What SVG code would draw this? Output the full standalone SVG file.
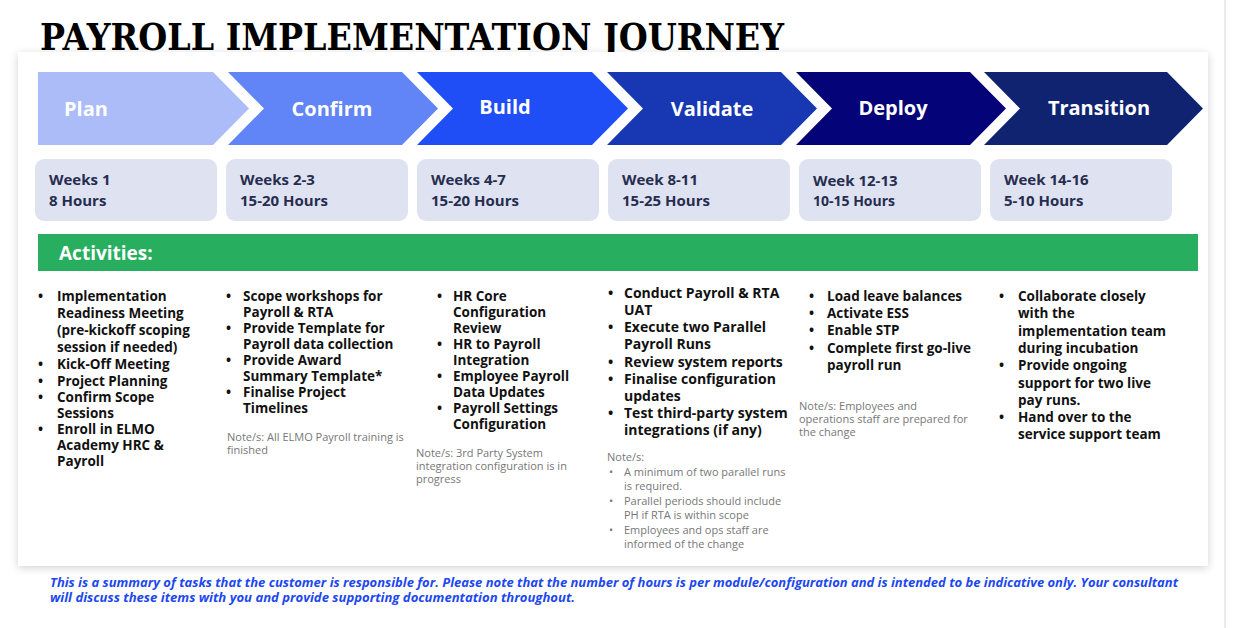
<svg xmlns="http://www.w3.org/2000/svg" width="1247" height="628" viewBox="0 0 1247 628">
  <defs>
    <filter id="shadow" x="-5%" y="-5%" width="110%" height="115%">
      <feGaussianBlur in="SourceAlpha" stdDeviation="4"/>
      <feOffset dx="0" dy="2" result="b"/>
      <feComponentTransfer><feFuncA type="linear" slope="0.18"/></feComponentTransfer>
      <feMerge><feMergeNode/><feMergeNode in="SourceGraphic"/></feMerge>
    </filter>
    <filter id="edge" x="-200%" y="0" width="500%" height="100%">
      <feGaussianBlur stdDeviation="1.5"/>
    </filter>
    <style>
      .title{font-family:"DejaVu Serif","Liberation Serif",serif;font-weight:bold;font-size:37px;fill:#000}
      .phase{font-family:"Open Sans","Noto Sans",sans-serif;font-weight:bold;font-size:20px;fill:#fff}
      .wbox{fill:#dfe2f1}
      .week{font-family:"Open Sans","Noto Sans",sans-serif;font-weight:bold;font-size:15px;fill:#262d4f}
      .weeks{font-family:"Open Sans","Noto Sans",sans-serif;font-weight:bold;font-size:14px;fill:#262d4f}
      .act{font-family:"Open Sans","Noto Sans",sans-serif;font-weight:bold;font-size:13.5px;fill:#111}
      .act2{font-family:"Open Sans","Noto Sans",sans-serif;font-weight:bold;font-size:14px;fill:#111}
      .note{font-family:"Open Sans","Noto Sans",sans-serif;font-size:11px;fill:#777}
      .foot{font-family:"Open Sans","Noto Sans",sans-serif;font-weight:bold;font-style:italic;font-size:12px;fill:#1d48f0}
      .hdr{font-family:"Open Sans","Noto Sans",sans-serif;font-weight:bold;font-size:19px;fill:#fff}
    </style>
  </defs>

  <rect x="0" y="0" width="1247" height="628" fill="#fff"/>
  <line x1="1225" y1="0" x2="1225" y2="628" stroke="#bbb" stroke-width="2" filter="url(#edge)"/>
  <line x1="1225" y1="0" x2="1225" y2="628" stroke="#d6d6d6" stroke-width="1"/>

  <text class="title" x="40" y="50" textLength="744" lengthAdjust="spacingAndGlyphs">PAYROLL IMPLEMENTATION JOURNEY</text>

  <rect id="card" x="18" y="52" width="1190" height="514" fill="#fff" filter="url(#shadow)"/>

  <g id="connectors"></g>

  <g id="phase-plan">
    <polygon points="38,72 213,72 249,108.5 213,145 38,145" fill="#abbcf9"/>
    <text class="phase" x="64" y="116">Plan</text>
    <rect class="wbox" x="35" y="159" width="182" height="62" rx="9"/>
    <text class="week" x="49" y="185">Weeks 1</text>
    <text class="week" x="49" y="206">8 Hours</text>
  </g>
  <g id="phase-confirm">
    <polygon points="228,72 402,72 438,108.5 402,145 228,145 264,108.5" fill="#6184f6"/>
    <text class="phase" x="332" y="116" text-anchor="middle">Confirm</text>
    <rect class="wbox" x="226" y="159" width="182" height="62" rx="9"/>
    <text class="week" x="240" y="185">Weeks 2-3</text>
    <text class="week" x="240" y="206">15-20 Hours</text>
  </g>
  <g id="phase-build">
    <polygon points="417,72 592,72 628,108.5 592,145 417,145 453,108.5" fill="#1f4ef6"/>
    <text class="phase" x="505" y="114" text-anchor="middle">Build</text>
    <rect class="wbox" x="417" y="159" width="182" height="62" rx="9"/>
    <text class="week" x="431" y="185">Weeks 4-7</text>
    <text class="week" x="431" y="206">15-20 Hours</text>
  </g>
  <g id="phase-validate">
    <polygon points="607,72 781,72 817,108.5 781,145 607,145 643,108.5" fill="#1737b3"/>
    <text class="phase" x="712" y="116" text-anchor="middle">Validate</text>
    <rect class="wbox" x="608" y="159" width="182" height="62" rx="9"/>
    <text class="week" x="622" y="185">Week 8-11</text>
    <text class="week" x="622" y="206">15-25 Hours</text>
  </g>
  <g id="phase-deploy">
    <polygon points="796,72 970,72 1006,108.5 970,145 796,145 832,108.5" fill="#040478"/>
    <text class="phase" x="893" y="115" text-anchor="middle">Deploy</text>
    <rect class="wbox" x="799" y="159" width="182" height="62" rx="9"/>
    <text class="week" x="813" y="186">Week 12-13</text>
    <text class="weeks" x="813" y="206">10-15 Hours</text>
  </g>
  <g id="phase-transition">
    <polygon points="984,72 1167,72 1203,108.5 1167,145 984,145 1020,108.5" fill="#0f2370"/>
    <text class="phase" x="1099" y="115" text-anchor="middle">Transition</text>
    <rect class="wbox" x="990" y="159" width="182" height="62" rx="9"/>
    <text class="week" x="1004" y="185">Week 14-16</text>
    <text class="week" x="1004" y="206">5-10 Hours</text>
  </g>

  <g id="activities-header">
    <rect x="38" y="234" width="1160" height="37" fill="#27ae5e"/>
    <text class="hdr" x="59" y="260">Activities:</text>
  </g>

  <g id="col-plan" class="act">
    <text x="38" y="301">•</text><text x="57" y="301">Implementation</text>
    <text x="57" y="318">Readiness Meeting</text>
    <text x="57" y="335">(pre-kickoff scoping</text>
    <text x="57" y="352">session if needed)</text>
    <text x="38" y="369">•</text><text x="57" y="369">Kick-Off Meeting</text>
    <text x="38" y="386">•</text><text x="57" y="386">Project Planning</text>
    <text x="38" y="402">•</text><text x="57" y="402">Confirm Scope</text>
    <text x="57" y="418">Sessions</text>
    <text x="38" y="434">•</text><text x="57" y="434">Enroll in ELMO</text>
    <text x="57" y="450">Academy  HRC &amp;</text>
    <text x="57" y="466">Payroll</text>
  </g>

  <g id="col-confirm">
    <g class="act">
      <text x="226" y="301">•</text><text x="243" y="301">Scope workshops for</text>
      <text x="243" y="317">Payroll &amp; RTA</text>
      <text x="226" y="333">•</text><text x="243" y="333">Provide Template for</text>
      <text x="243" y="349">Payroll data collection</text>
      <text x="226" y="365">•</text><text x="243" y="365">Provide Award</text>
      <text x="243" y="381">Summary Template*</text>
      <text x="226" y="397">•</text><text x="243" y="397">Finalise Project</text>
      <text x="243" y="413">Timelines</text>
    </g>
    <text class="note" x="227" y="441">Note/s: All ELMO Payroll training is</text>
    <text class="note" x="227" y="454">finished</text>
  </g>

  <g id="col-build">
    <g class="act">
      <text x="437" y="301">•</text><text x="453" y="301">HR Core</text>
      <text x="453" y="317">Configuration</text>
      <text x="453" y="333">Review</text>
      <text x="437" y="349">•</text><text x="453" y="349">HR to Payroll</text>
      <text x="453" y="365">Integration</text>
      <text x="437" y="381">•</text><text x="453" y="381">Employee Payroll</text>
      <text x="453" y="397">Data Updates</text>
      <text x="437" y="413">•</text><text x="453" y="413">Payroll Settings</text>
      <text x="453" y="429">Configuration</text>
    </g>
    <text class="note" x="416" y="457">Note/s: 3rd Party System</text>
    <text class="note" x="416" y="470">integration configuration is in</text>
    <text class="note" x="416" y="483">progress</text>
  </g>

  <g id="col-validate">
    <g class="act2">
      <text x="608" y="298">•</text><text x="624" y="298">Conduct Payroll &amp; RTA</text>
      <text x="624" y="315">UAT</text>
      <text x="608" y="332">•</text><text x="624" y="332">Execute two Parallel</text>
      <text x="624" y="349">Payroll Runs</text>
      <text x="608" y="367">•</text><text x="624" y="367">Review system reports</text>
      <text x="608" y="384">•</text><text x="624" y="384">Finalise configuration</text>
      <text x="624" y="401">updates</text>
      <text x="608" y="418">•</text><text x="624" y="418">Test third-party system</text>
      <text x="624" y="435">integrations (if any)</text>
    </g>
    <g class="note">
      <text x="607" y="461">Note/s:</text>
      <text x="609" y="476">•</text><text x="624" y="476">A minimum of two parallel runs</text>
      <text x="624" y="490">is required.</text>
      <text x="609" y="505">•</text><text x="624" y="505">Parallel periods should include</text>
      <text x="624" y="519">PH if RTA is within scope</text>
      <text x="609" y="534">•</text><text x="624" y="534">Employees and ops staff are</text>
      <text x="624" y="548">informed of the change</text>
    </g>
  </g>

  <g id="col-deploy">
    <g class="act">
      <text x="809" y="301">•</text><text x="827" y="301">Load leave balances</text>
      <text x="809" y="318">•</text><text x="827" y="318">Activate ESS</text>
      <text x="809" y="335">•</text><text x="827" y="335">Enable STP</text>
      <text x="809" y="353">•</text><text x="827" y="353">Complete first go-live</text>
      <text x="827" y="370">payroll run</text>
    </g>
    <text class="note" x="799" y="410">Note/s: Employees and</text>
    <text class="note" x="799" y="423">operations staff are prepared for</text>
    <text class="note" x="799" y="436">the change</text>
  </g>

  <g id="col-transition" class="act">
    <text x="999" y="301">•</text><text x="1018" y="301">Collaborate closely</text>
    <text x="1018" y="318">with the</text>
    <text x="1018" y="336">implementation team</text>
    <text x="1018" y="353">during incubation</text>
    <text x="999" y="370">•</text><text x="1018" y="370">Provide ongoing</text>
    <text x="1018" y="388">support for two live</text>
    <text x="1018" y="405">pay runs.</text>
    <text x="999" y="422">•</text><text x="1018" y="422">Hand over to the</text>
    <text x="1018" y="439">service support team</text>
  </g>

  <g id="footnote" class="foot">
    <text x="50" y="587" textLength="1128" lengthAdjust="spacingAndGlyphs">This is a summary of tasks that the customer is responsible for. Please note that the number of hours is per module/configuration and is intended to be indicative only. Your consultant</text>
    <text x="50" y="602" textLength="525" lengthAdjust="spacingAndGlyphs">will discuss these items with you and provide supporting documentation throughout.</text>
  </g>
</svg>
